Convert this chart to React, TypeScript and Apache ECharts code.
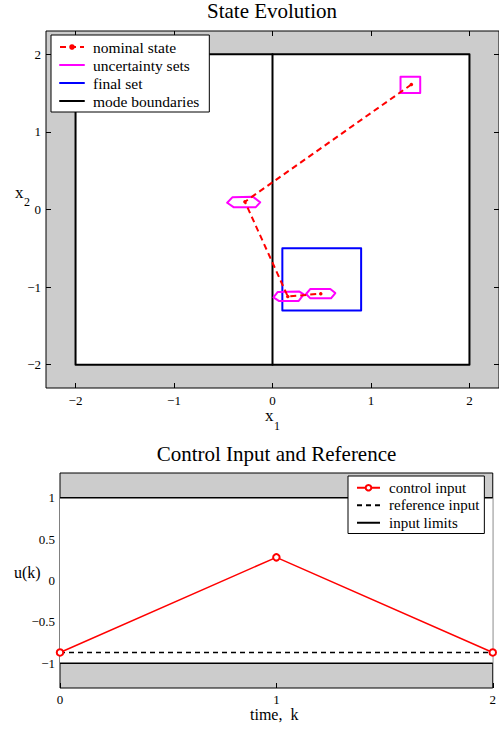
import React, { useEffect, useRef } from 'react';
import * as echarts from 'echarts';

// ---------- data ----------
const topTicks = [-2, -1, 0, 1, 2];
const nominalState = [[1.41, 1.61], [-0.28, 0.1], [0.155, -1.12], [0.49, -1.085]];
const uncertaintySquare = [[1.3, 1.5], [1.5, 1.5], [1.5, 1.71], [1.3, 1.71], [1.3, 1.5]];
const uncertaintyHex1 = [[-0.46, 0.087], [-0.408, 0.157], [-0.199, 0.164], [-0.125, 0.092], [-0.172, 0.028], [-0.392, 0.028], [-0.46, 0.087]];
const uncertaintyHex2 = [[0.01, -1.132], [0.054, -1.062], [0.273, -1.058], [0.317, -1.093], [0.266, -1.178], [0.064, -1.178], [0.01, -1.132]];
const uncertaintyHex3 = [[0.341, -1.089], [0.385, -1.024], [0.587, -1.024], [0.638, -1.076], [0.594, -1.145], [0.385, -1.145], [0.341, -1.089]];
const finalSet = [[0.1, -1.3], [0.9, -1.3], [0.9, -0.5], [0.1, -0.5], [0.1, -1.3]];
const modeBox = [[-2, -2], [2, -2], [2, 2], [-2, 2], [-2, -2]];
const modeSplit = [[0, -2], [0, 2]];

const timeSteps = [0, 1, 2];
const controlInput = [-0.87, 0.28, -0.87];
const referenceInput = [-0.87, -0.87, -0.87];
const inputLimitUpper = 1;
const inputLimitLower = -1;
const bottomYTicks = [-1, -0.5, 0, 0.5, 1];

const FONT = 'Liberation Serif';
const fmt = (v: number) => String(v).replace('-', '\u2212');

export default function App() {
  const ref = useRef<HTMLDivElement>(null);
  useEffect(() => {
    const chart = echarts.init(ref.current!, null, { renderer: 'svg' });
    const tickStyle = { show: true, inside: true, length: 5, lineStyle: { color: '#000', width: 1 } };
    const labelStyle = { color: '#000', fontFamily: FONT, fontSize: 13, lineHeight: 12 };
    const noLine = { show: false, onZero: false };
    const line = (name: string, data: number[][], color: string, extra: any = {}) => ({
      type: 'line', name, data, xAxisIndex: 0, yAxisIndex: 0, symbol: 'none', z: 3,
      lineStyle: { color, width: 2, cap: 'round', join: 'round' }, itemStyle: { color },
      ...extra,
    });
    const noSym = (name: string) => ({ name, itemStyle: { opacity: 0 } });
    chart.setOption({
      animation: false,
      title: [
        { text: 'State Evolution', left: 272, top: 0, textAlign: 'center', padding: 0,
          textStyle: { fontFamily: FONT, fontSize: 21, fontWeight: 'normal', color: '#000' } },
        { text: 'Control Input and Reference', left: 276.5, top: 443, textAlign: 'center', padding: 0,
          textStyle: { fontFamily: FONT, fontSize: 21, fontWeight: 'normal', color: '#000' } },
      ],
      grid: [
        { left: 46, top: 31, right: -1, bottom: 341, show: true, backgroundColor: '#cccccc', borderColor: '#000', borderWidth: 1 },
        { left: 60, top: 473, right: 6, bottom: 41, show: true, backgroundColor: '#cccccc', borderColor: '#000', borderWidth: 1 },
      ],
      xAxis: [
        { type: 'value', gridIndex: 0, min: -2.3, max: 2.3, position: 'bottom', splitLine: { show: false }, axisLine: noLine,
          axisTick: { ...tickStyle, customValues: topTicks },
          axisLabel: { ...labelStyle, margin: 6, customValues: topTicks, formatter: fmt } },
        { type: 'value', gridIndex: 0, min: -2.3, max: 2.3, position: 'top', splitLine: { show: false }, axisLine: noLine,
          axisTick: { ...tickStyle, customValues: topTicks }, axisLabel: { show: false } },
        { type: 'value', gridIndex: 1, min: 0, max: 2, interval: 1, position: 'bottom', splitLine: { show: false }, axisLine: noLine,
          axisTick: tickStyle, axisLabel: { ...labelStyle, margin: 5, formatter: fmt } },
      ],
      yAxis: [
        { type: 'value', gridIndex: 0, min: -2.3, max: 2.3, position: 'left', splitLine: { show: false }, axisLine: noLine,
          axisTick: { ...tickStyle, customValues: topTicks },
          axisLabel: { ...labelStyle, margin: 5, customValues: topTicks, formatter: fmt } },
        { type: 'value', gridIndex: 0, min: -2.3, max: 2.3, position: 'right', splitLine: { show: false }, axisLine: noLine,
          axisTick: { ...tickStyle, customValues: topTicks }, axisLabel: { show: false } },
        { type: 'value', gridIndex: 1, min: -1.3, max: 1.3, position: 'left', splitLine: { show: false }, axisLine: noLine,
          axisTick: { ...tickStyle, customValues: bottomYTicks },
          axisLabel: { ...labelStyle, margin: 5, customValues: bottomYTicks, formatter: fmt } },
      ],
      legend: [
        { orient: 'vertical', left: 51, top: 35, padding: [3, 10, 2, 8], itemGap: 0, itemWidth: 24, itemHeight: 7,
          backgroundColor: '#fff', borderColor: '#000', borderWidth: 1, borderRadius: 0,
          data: ['nominal state', noSym('uncertainty sets'), noSym('final set'), noSym('mode boundaries')],
          textStyle: { fontFamily: FONT, fontSize: 15.5, color: '#000', lineHeight: 18, padding: [0, 0, 0, 4] } },
        { orient: 'vertical', left: 348, top: 476, padding: [3, 5, 2, 8], itemGap: 0, itemWidth: 23, itemHeight: 7,
          backgroundColor: '#fff', borderColor: '#000', borderWidth: 1, borderRadius: 0,
          data: ['control input', noSym('reference input'), noSym('input limits')],
          textStyle: { fontFamily: FONT, fontSize: 15, color: '#000', lineHeight: 17.5, padding: [0, 0, 0, 4] } },
      ],
      graphic: [
        { type: 'text', left: 265, top: 407, style: { text: 'x', font: `17px "${FONT}"`, fill: '#000' } },
        { type: 'text', left: 274, top: 420, style: { text: '1', font: `12px "${FONT}"`, fill: '#000' } },
        { type: 'text', left: 15, top: 184, style: { text: 'x', font: `17px "${FONT}"`, fill: '#000' } },
        { type: 'text', left: 24, top: 196, style: { text: '2', font: `12px "${FONT}"`, fill: '#000' } },
        { type: 'text', left: 14, top: 564, style: { text: 'u(k)', font: `16px "${FONT}"`, fill: '#000' } },
        { type: 'text', left: 250, top: 706, style: { text: 'time,  k', font: `16px "${FONT}"`, fill: '#000' } },
      ],
      series: [
        { type: 'line', name: 'bgTop', data: modeSplit, xAxisIndex: 0, yAxisIndex: 0, z: 1, silent: true,
          symbol: 'none', lineStyle: { opacity: 0 },
          markArea: { silent: true, itemStyle: { color: '#fff', borderWidth: 0 }, label: { show: false },
            data: [[{ coord: [-2, -2] }, { coord: [2, 2] }]] } },
        line('mode boundaries', modeBox, '#000'),
        line('mode boundaries', modeSplit, '#000'),
        line('final set', finalSet, '#0000ff'),
        line('uncertainty sets', uncertaintySquare, '#ff00ff'),
        line('uncertainty sets', uncertaintyHex1, '#ff00ff'),
        line('uncertainty sets', uncertaintyHex2, '#ff00ff'),
        line('uncertainty sets', uncertaintyHex3, '#ff00ff'),
        line('nominal state', nominalState, '#ff0000', {
          symbol: 'circle', symbolSize: 3.5, showSymbol: true, z: 4,
          lineStyle: { color: '#ff0000', width: 2, type: [6, 4] } }),
        { type: 'line', name: 'bgBottom', xAxisIndex: 2, yAxisIndex: 2, z: 1, silent: true,
          data: timeSteps.map((t, i) => [t, referenceInput[i]]),
          symbol: 'none', lineStyle: { opacity: 0 },
          markArea: { silent: true, itemStyle: { color: '#fff', borderWidth: 0 }, label: { show: false },
            data: [[{ coord: [timeSteps[0], inputLimitLower] }, { coord: [timeSteps[timeSteps.length - 1], inputLimitUpper] }]] } },
        { type: 'line', name: 'input limits', xAxisIndex: 2, yAxisIndex: 2, symbol: 'none', z: 3,
          data: [[timeSteps[0], inputLimitUpper], [timeSteps[timeSteps.length - 1], inputLimitUpper]],
          lineStyle: { color: '#000', width: 1.5 }, itemStyle: { color: '#000' } },
        { type: 'line', name: 'input limits', xAxisIndex: 2, yAxisIndex: 2, symbol: 'none', z: 3,
          data: [[timeSteps[0], inputLimitLower], [timeSteps[timeSteps.length - 1], inputLimitLower]],
          lineStyle: { color: '#000', width: 1.5 }, itemStyle: { color: '#000' } },
        { type: 'line', name: 'reference input', xAxisIndex: 2, yAxisIndex: 2, symbol: 'none', z: 3,
          data: timeSteps.map((t, i) => [t, referenceInput[i]]),
          lineStyle: { color: '#000', width: 1.5, type: [5, 4] }, itemStyle: { color: '#000' } },
        { type: 'line', name: 'control input', xAxisIndex: 2, yAxisIndex: 2, symbol: 'emptyCircle', symbolSize: 6.5, showSymbol: true, z: 4,
          data: timeSteps.map((t, i) => [t, controlInput[i]]), clip: false,
          lineStyle: { color: '#ff0000', width: 1.5 }, itemStyle: { color: '#ff0000', borderWidth: 1.5 } },
      ],
    });
    return () => chart.dispose();
  }, []);
  return <div ref={ref} style={{ position: 'fixed', left: 0, top: 0, width: 499, height: 729, background: '#fff' }} />;
}
